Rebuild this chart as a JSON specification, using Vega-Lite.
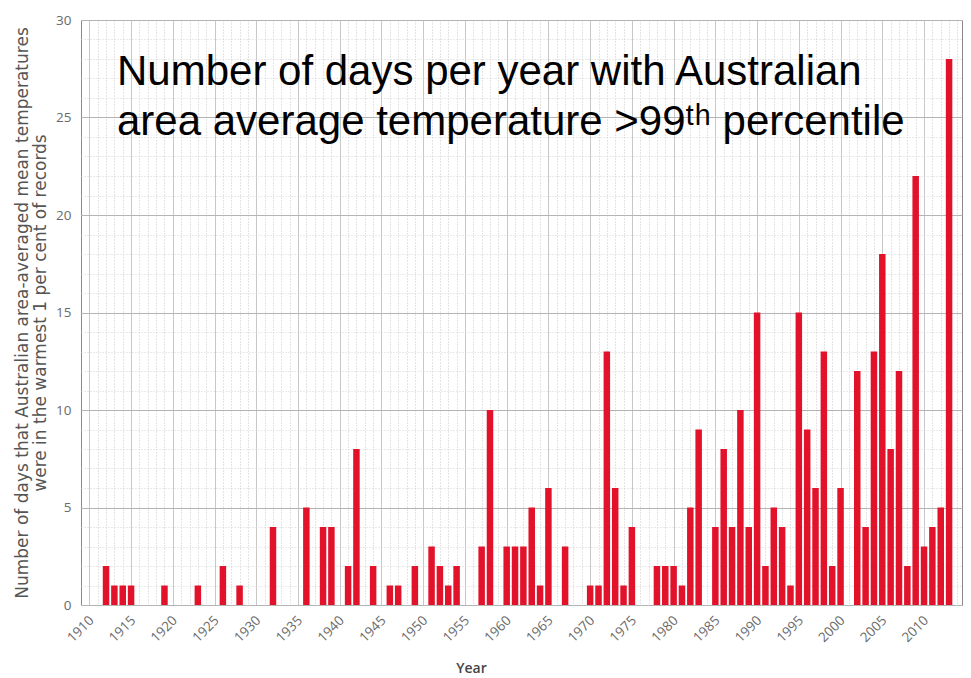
{
  "$schema": "https://vega.github.io/schema/vega-lite/v6.json",
  "width": 881,
  "height": 585,
  "autosize": "none",
  "padding": {"left": 81, "top": 20, "right": 9, "bottom": 73},
  "background": "white",
  "config": {
    "view": {"stroke": "#8a8a8a", "strokeWidth": 1},
    "axis": {"labelFont": "Open Sans", "titleFont": "Open Sans", "labelColor": "#6a6a6a", "titleColor": "#555555"}
  },
  "title": {
    "text": ["Number of days per year with Australian", "area average temperature >99ᵗʰ percentile"],
    "anchor": "start",
    "frame": "group",
    "baseline": "top",
    "dx": 36,
    "dy": 135,
    "font": "Liberation Sans",
    "fontSize": 42,
    "fontWeight": "normal",
    "lineHeight": 50,
    "color": "#000000"
  },
  "data": {
    "values": [
      {"year": 1910, "days": 0}, {"year": 1911, "days": 0}, {"year": 1912, "days": 2}, {"year": 1913, "days": 1},
      {"year": 1914, "days": 1}, {"year": 1915, "days": 1}, {"year": 1916, "days": 0}, {"year": 1917, "days": 0},
      {"year": 1918, "days": 0}, {"year": 1919, "days": 1}, {"year": 1920, "days": 0}, {"year": 1921, "days": 0},
      {"year": 1922, "days": 0}, {"year": 1923, "days": 1}, {"year": 1924, "days": 0}, {"year": 1925, "days": 0},
      {"year": 1926, "days": 2}, {"year": 1927, "days": 0}, {"year": 1928, "days": 1}, {"year": 1929, "days": 0},
      {"year": 1930, "days": 0}, {"year": 1931, "days": 0}, {"year": 1932, "days": 4}, {"year": 1933, "days": 0},
      {"year": 1934, "days": 0}, {"year": 1935, "days": 0}, {"year": 1936, "days": 5}, {"year": 1937, "days": 0},
      {"year": 1938, "days": 4}, {"year": 1939, "days": 4}, {"year": 1940, "days": 0}, {"year": 1941, "days": 2},
      {"year": 1942, "days": 8}, {"year": 1943, "days": 0}, {"year": 1944, "days": 2}, {"year": 1945, "days": 0},
      {"year": 1946, "days": 1}, {"year": 1947, "days": 1}, {"year": 1948, "days": 0}, {"year": 1949, "days": 2},
      {"year": 1950, "days": 0}, {"year": 1951, "days": 3}, {"year": 1952, "days": 2}, {"year": 1953, "days": 1},
      {"year": 1954, "days": 2}, {"year": 1955, "days": 0}, {"year": 1956, "days": 0}, {"year": 1957, "days": 3},
      {"year": 1958, "days": 10}, {"year": 1959, "days": 0}, {"year": 1960, "days": 3}, {"year": 1961, "days": 3},
      {"year": 1962, "days": 3}, {"year": 1963, "days": 5}, {"year": 1964, "days": 1}, {"year": 1965, "days": 6},
      {"year": 1966, "days": 0}, {"year": 1967, "days": 3}, {"year": 1968, "days": 0}, {"year": 1969, "days": 0},
      {"year": 1970, "days": 1}, {"year": 1971, "days": 1}, {"year": 1972, "days": 13}, {"year": 1973, "days": 6},
      {"year": 1974, "days": 1}, {"year": 1975, "days": 4}, {"year": 1976, "days": 0}, {"year": 1977, "days": 0},
      {"year": 1978, "days": 2}, {"year": 1979, "days": 2}, {"year": 1980, "days": 2}, {"year": 1981, "days": 1},
      {"year": 1982, "days": 5}, {"year": 1983, "days": 9}, {"year": 1984, "days": 0}, {"year": 1985, "days": 4},
      {"year": 1986, "days": 8}, {"year": 1987, "days": 4}, {"year": 1988, "days": 10}, {"year": 1989, "days": 4},
      {"year": 1990, "days": 15}, {"year": 1991, "days": 2}, {"year": 1992, "days": 5}, {"year": 1993, "days": 4},
      {"year": 1994, "days": 1}, {"year": 1995, "days": 15}, {"year": 1996, "days": 9}, {"year": 1997, "days": 6},
      {"year": 1998, "days": 13}, {"year": 1999, "days": 2}, {"year": 2000, "days": 6}, {"year": 2001, "days": 0},
      {"year": 2002, "days": 12}, {"year": 2003, "days": 4}, {"year": 2004, "days": 13}, {"year": 2005, "days": 18},
      {"year": 2006, "days": 8}, {"year": 2007, "days": 12}, {"year": 2008, "days": 2}, {"year": 2009, "days": 22},
      {"year": 2010, "days": 3}, {"year": 2011, "days": 4}, {"year": 2012, "days": 5}, {"year": 2013, "days": 28}
    ]
  },
  "resolve": {"axis": {"x": "independent", "y": "independent"}},
  "layer": [
    {
      "description": "Fine dotted grid: one line per year and per day",
      "mark": {"type": "bar", "opacity": 0},
      "encoding": {
        "x": {
          "field": "year", "type": "quantitative",
          "scale": {"domain": [1909.6, 2013.95], "nice": false, "zero": false},
          "axis": {"orient": "bottom", "tickCount": 104, "labels": false, "ticks": false, "domain": false, "title": null,
                   "grid": true, "gridColor": "#c8c8c8", "gridDash": [1, 2], "gridWidth": 1}
        },
        "y": {
          "field": "days", "type": "quantitative",
          "scale": {"domain": [0, 30], "nice": false},
          "axis": {"orient": "left", "tickCount": 30, "labels": false, "ticks": false, "domain": false, "title": null,
                   "grid": true, "gridColor": "#d4d4d4", "gridDash": [1, 2], "gridWidth": 1}
        }
      }
    },
    {
      "mark": {"type": "bar", "color": "#e3122b", "width": 6.5},
      "encoding": {
        "x": {
          "field": "year", "type": "quantitative",
          "axis": {"orient": "bottom", "values": [1910, 1915, 1920, 1925, 1930, 1935, 1940, 1945, 1950, 1955, 1960, 1965, 1970, 1975, 1980, 1985, 1990, 1995, 2000, 2005, 2010],
                   "format": "d", "labelAngle": -45, "labelFontSize": 13.5, "labelPadding": 8, "labelOffset": -3, "ticks": false, "domain": false,
                   "grid": true, "gridColor": "#c8c8c8", "gridWidth": 1,
                   "title": "Year", "titleFontSize": 14, "titleFontWeight": 600, "titleColor": "#444444", "titlePadding": 17, "titleX": 390}
        },
        "y": {
          "field": "days", "type": "quantitative",
          "axis": {"orient": "left", "values": [0, 5, 10, 15, 20, 25, 30], "labelFontSize": 13.5, "labelPadding": 10, "ticks": false, "domain": false,
                   "grid": true, "gridColor": "#b4b4b4", "gridWidth": 1,
                   "title": ["Number of days that Australian area-averaged mean temperatures", "were in the warmest 1 per cent of records"],
                   "titleFont": "DejaVu Sans", "titleFontSize": 17, "titleFontWeight": "normal", "titleLineHeight": 18, "titlePadding": 6}
        }
      }
    }
  ]
}
